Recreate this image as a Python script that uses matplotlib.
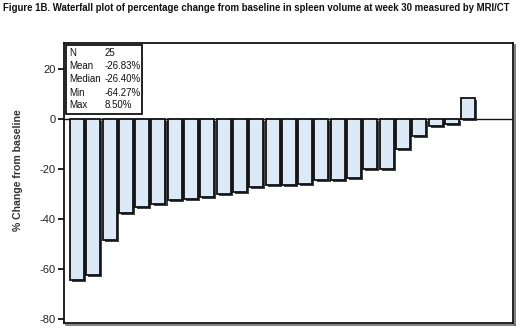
import matplotlib
matplotlib.use("Agg")
import matplotlib.pyplot as plt
import matplotlib.patheffects as pe
from matplotlib.ticker import FuncFormatter

plt.rcParams['font.family'] = ['Liberation Sans', 'DejaVu Sans']

# percent change from baseline, sorted (one bar per patient)
changes = [-64.27, -62.4, -48.4, -37.5, -35.1, -34.1, -32.4, -32.1, -31.1,
           -30.1, -29.3, -27.3, -26.4, -26.3, -25.9, -24.4, -24.4, -23.6,
           -20.1, -20.1, -11.9, -6.8, -2.8, -2.1, 8.5]
stat_names = ['N', 'Mean', 'Median', 'Min', 'Max']
stat_values = ['25', '-26.83%', '-26.40%', '-64.27%', '8.50%']
yticks = [20, 0, -20, -40, -60, -80]

title = ("Figure 1B. Waterfall plot of percentage change from baseline "
         "in spleen volume at week 30 measured by MRI/CT")

fig = plt.figure(figsize=(5.2, 3.31), dpi=100)
ax = fig.add_axes([0.123, 0.024, 0.8635, 0.846])

shadow = [pe.SimplePatchShadow(offset=(1.5, -1.5), shadow_rgbFace='#222222', alpha=0.85),
          pe.Normal()]

xs = range(len(changes))
bars = ax.bar(xs, changes, width=0.86, color='#dce9f6', edgecolor='#111111',
              linewidth=1.3, zorder=3)
for b in bars:
    b.set_path_effects(shadow)

ax.axhline(0, color='#111111', linewidth=1.0, zorder=2)

ax.set_xlim(-0.8, 26.75)
ax.set_ylim(-81.6, 30.4)
ax.set_xticks([])
ax.set_yticks(yticks)
ax.yaxis.set_major_formatter(FuncFormatter(lambda v, p: f"{int(v)}"))
ax.tick_params(axis='y', direction='out', length=4, width=1.2, pad=2,
               labelsize=8, labelcolor='#222222')

for side in ['left', 'right', 'top', 'bottom']:
    ax.spines[side].set_linewidth(1.3)
    ax.spines[side].set_color('#111111')
for side in ['right', 'bottom']:
    ax.spines[side].set_path_effects(
        [pe.SimpleLineShadow(offset=(1.5, -1.5), shadow_color='#555555', alpha=0.8),
         pe.Normal()])

ax.set_ylabel('% Change from baseline', fontsize=7.6, fontweight='bold',
              color='#333333')
ax.yaxis.set_label_coords(-0.092, 0.545)

# summary statistics box
box = plt.Rectangle((0.004, 0.748), 0.17, 0.245, transform=ax.transAxes,
                    facecolor='white', edgecolor='#111111', linewidth=1.3, zorder=5)
ax.add_patch(box)
row_y = [0.965, 0.917, 0.87, 0.823, 0.778]
for name, val, yy in zip(stat_names, stat_values, row_y):
    ax.text(0.012, yy, name, transform=ax.transAxes, fontsize=7,
            va='center', ha='left', color='#111111', zorder=6)
    ax.text(0.09, yy, val, transform=ax.transAxes, fontsize=7,
            va='center', ha='left', color='#111111', zorder=6)

fig.text(0.006, 0.976, title, fontsize=6.9, fontweight='bold',
         ha='left', va='center', color='#111111')

fig.savefig('out.png', dpi=100)
